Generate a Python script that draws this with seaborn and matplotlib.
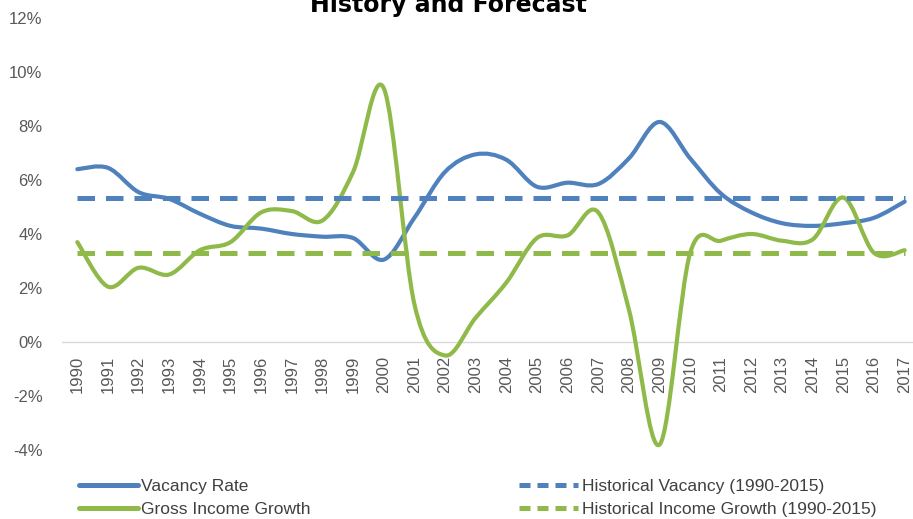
import numpy as np
import matplotlib
matplotlib.use('Agg')
import matplotlib.pyplot as plt
import seaborn as sns
from matplotlib.path import Path
from matplotlib.patches import PathPatch
from matplotlib.lines import Line2D

years = list(range(1990, 2018))
vacancy_rate = [6.4, 6.45, 5.55, 5.3, 4.75, 4.3, 4.2, 4.0, 3.9, 3.85,
                3.05, 4.6, 6.3, 6.95, 6.75, 5.75, 5.9, 5.85, 6.8, 8.15,
                6.8, 5.5, 4.8, 4.4, 4.3, 4.4, 4.6, 5.2]
income_growth = [3.7, 2.05, 2.75, 2.5, 3.4, 3.7, 4.8, 4.85, 4.5, 6.3,
                 9.4, 1.4, -0.5, 0.9, 2.2, 3.85, 3.95, 4.8, 1.2, -3.8,
                 3.3, 3.75, 4.0, 3.75, 3.8, 5.35, 3.3, 3.4]
hist_vacancy = 5.35
hist_income = 3.3

BLUE = '#4F81BD'
GREEN = '#8FBA4A'
LABEL_FONT = ['Liberation Sans', 'DejaVu Sans']


def smooth_path(xs, ys):
    # Excel-style smoothed line: Catmull-Rom segments as cubic Bezier curves
    pts = np.column_stack([xs, ys]).astype(float)
    n = len(pts)
    verts = [pts[0]]
    codes = [Path.MOVETO]
    for i in range(n - 1):
        p0 = pts[max(i - 1, 0)]
        p1 = pts[i]
        p2 = pts[i + 1]
        p3 = pts[min(i + 2, n - 1)]
        c1 = p1 + (p2 - p0) / 6.0
        c2 = p2 - (p3 - p1) / 6.0
        verts += [c1, c2, p2]
        codes += [Path.CURVE4] * 3
    return Path(verts, codes)


sns.set_theme(style='white')
plt.rcParams['font.family'] = LABEL_FONT

fig = plt.figure(figsize=(9.13, 5.19), dpi=100)
ax = fig.add_axes([62 / 913, 1 - 450 / 519, (920 - 62) / 913, (450 - 18) / 519])

x = np.arange(len(years))

sns.lineplot(x=x, y=[hist_vacancy] * len(x), ax=ax, color=BLUE, linewidth=3.6,
             linestyle=(0, (3.5, 2.2)), dash_capstyle='butt')
sns.lineplot(x=x, y=[hist_income] * len(x), ax=ax, color=GREEN, linewidth=3.6,
             linestyle=(0, (3.5, 2.2)), dash_capstyle='butt')

ax.add_patch(PathPatch(smooth_path(x, vacancy_rate), fill=False, edgecolor=BLUE,
                       linewidth=3.0, capstyle='round', joinstyle='round'))
ax.add_patch(PathPatch(smooth_path(x, income_growth), fill=False, edgecolor=GREEN,
                       linewidth=3.0, capstyle='round', joinstyle='round'))

# move the category axis onto the 0% line first (this resets the ticks)
for side in ['top', 'right', 'left']:
    ax.spines[side].set_visible(False)
ax.spines['bottom'].set_position(('data', 0))
ax.spines['bottom'].set_color('#d9d9d9')
ax.spines['bottom'].set_linewidth(1.0)
ax.spines['bottom'].set_zorder(0)

ax.set_xlim(-0.5, len(years) - 0.5)
ax.set_ylim(-4, 12)
ax.set_yticks(range(-4, 13, 2))
ax.set_yticklabels([f'{v}%' for v in range(-4, 13, 2)])
ax.set_xticks(x)
ax.set_xticklabels([str(y) for y in years], rotation=90)
ax.tick_params(axis='both', length=0, labelsize=12, labelcolor='#595959')
ax.tick_params(axis='y', pad=14)
ax.tick_params(axis='x', pad=10)
ax.grid(False)
ax.set_xlabel('')
ax.set_ylabel('')

fig.text(448 / 913, 1 - 12 / 519, 'History and Forecast', ha='center', va='baseline',
         fontsize=17, fontweight='bold', family='DejaVu Sans', color='black')

handles = [
    Line2D([], [], color=BLUE, linewidth=3.6),
    Line2D([], [], color=GREEN, linewidth=3.6),
    Line2D([], [], color=BLUE, linewidth=3.6, linestyle=(0, (2.2, 1.4))),
    Line2D([], [], color=GREEN, linewidth=3.6, linestyle=(0, (2.2, 1.4))),
]
labels = ['Vacancy Rate', 'Gross Income Growth',
          'Historical Vacancy (1990-2015)', 'Historical Income Growth (1990-2015)']
leg = fig.legend(handles, labels, ncol=2, loc='upper left',
                 bbox_to_anchor=(72 / 913, 1 - 472 / 519), frameon=False,
                 fontsize=12.5, handlelength=3.4, handletextpad=0.2,
                 columnspacing=12.0, labelspacing=0.45, borderaxespad=0)
for t in leg.get_texts():
    t.set_color('#404040')

fig.savefig('out.png', dpi=100)
